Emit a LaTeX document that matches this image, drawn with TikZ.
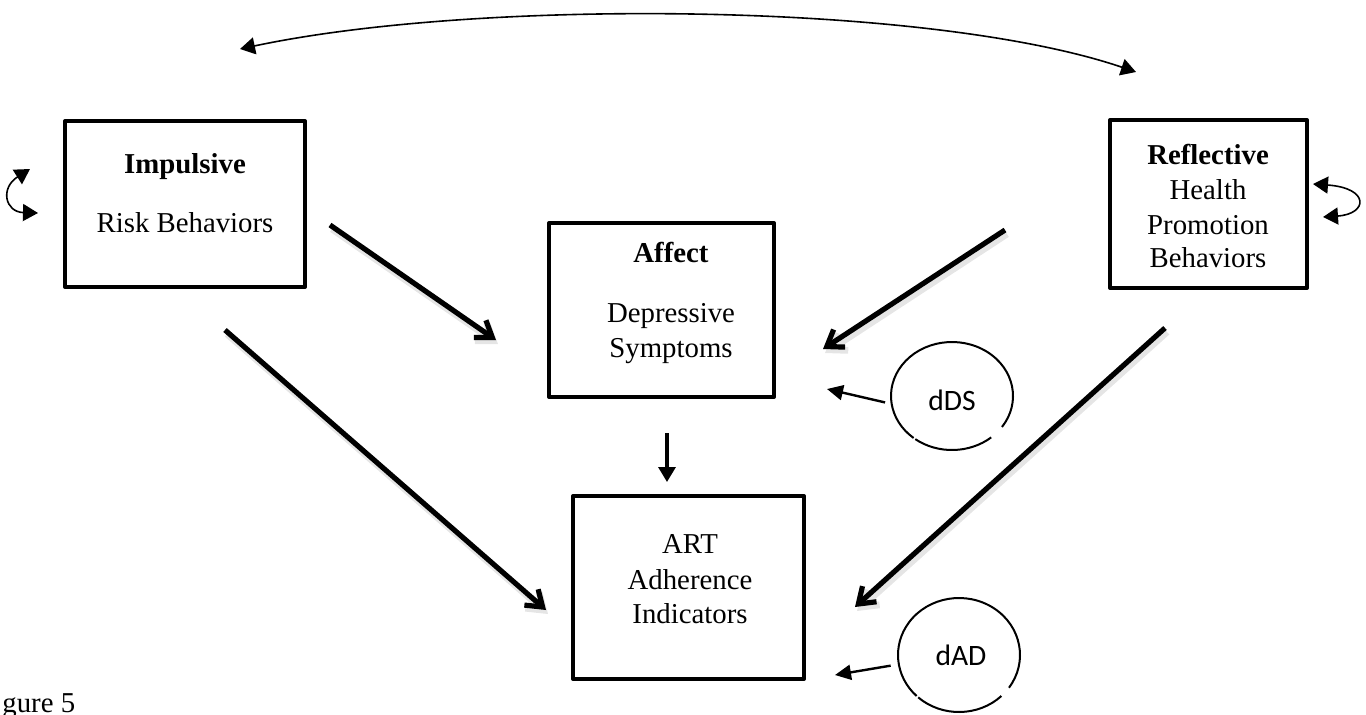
\documentclass[tikz,border=0pt]{standalone}
\usepackage{fontspec}
\setmainfont{Liberation Serif}
\newfontfamily\calibrifont{Carlito}
\usetikzlibrary{arrows.meta,shapes.geometric}
\begin{document}
\begin{tikzpicture}[x=0.5pt,y=-0.5pt,
  box/.style={draw, line width=2pt, rectangle, inner sep=0pt, line join=round},
  lbl/.style={font=\fontsize{14.4}{17}\selectfont, inner sep=0pt, anchor=base},
  errnode/.style={ellipse, inner sep=0pt, font=\calibrifont\fontsize{14.8}{17}\selectfont},
  errline/.style={line width=1pt},
  bigarrow/.style={line width=2.6pt, -{Straight Barb[length=7.5pt,width=10.5pt]}},
  bigshadow/.style={line width=3.4pt, black!10, -{Straight Barb[length=7.5pt,width=10.5pt]}},
  midarrow/.style={line width=1.6pt, -{Triangle[length=7.5pt,width=8.5pt]}},
  smallarrow/.style={line width=1.2pt, -{Triangle[length=8pt,width=7.5pt]}},
  curvearrow/.style={line width=0.8pt, {Triangle[length=7.5pt,width=8.5pt]}-{Triangle[length=7.5pt,width=8.5pt]}}
]
\useasboundingbox (0,0) rectangle (1366,714);

% boxes
\node[box, minimum width=120pt, minimum height=83pt] (imp) at (185,204) {};
\node[box, minimum width=112.5pt, minimum height=87pt] (aff) at (661.5,310) {};
\node[box, minimum width=98.5pt, minimum height=84pt] (ref) at (1208.5,204) {};
\node[box, minimum width=115.5pt, minimum height=91.5pt] (art) at (688.5,587.5) {};

% box texts
\node[lbl] (impT) at (185,173) {\textbf{Impulsive}};
\node[lbl] (impS) at (185,232) {Risk Behaviors};
\node[lbl] (affT) at (671,262) {\textbf{Affect}};
\node[lbl] (affS1) at (671,322) {Depressive};
\node[lbl] (affS2) at (671,357) {Symptoms};
\node[lbl] (refT) at (1208,164) {\textbf{Reflective}};
\node[lbl] (refS1) at (1208,199) {Health};
\node[lbl] (refS2) at (1208,234) {Promotion};
\node[lbl] (refS3) at (1208,267) {Behaviors};
\node[lbl] (artS1) at (690,553) {ART};
\node[lbl] (artS2) at (690,589) {Adherence};
\node[lbl] (artS3) at (690,623) {Indicators};

% error terms
\node[errnode, minimum width=61pt, minimum height=54pt] (dds) at (952,396) {};
\node[errnode, anchor=base] (ddsT) at (952,410) {dDS};
\draw[errline] ([shift={(-35:30.5pt and 27pt)}]dds.center) arc[start angle=-35, end angle=231, x radius=30.5pt, y radius=27pt];
\draw[errline] ([shift={(233:30.5pt and 27pt)}]dds.center) arc[start angle=233, end angle=310, x radius=30.5pt, y radius=27pt];

\node[errnode, minimum width=61pt, minimum height=57pt] (dad) at (959,655) {};
\node[errnode, anchor=base] (dadT) at (961,665) {dAD};
\draw[errline] ([shift={(-35:30.5pt and 28.5pt)}]dad.center) arc[start angle=-35, end angle=226, x radius=30.5pt, y radius=28.5pt];
\draw[errline] ([shift={(228:30.5pt and 28.5pt)}]dad.center) arc[start angle=228, end angle=314, x radius=30.5pt, y radius=28.5pt];

% coordinates for connector ends
\coordinate (a1s) at (330,225); \coordinate (a1e) at (496,340);
\coordinate (a2s) at (225,330); \coordinate (a2e) at (546,610);
\coordinate (a3s) at (1005,230); \coordinate (a3e) at (823,349);
\coordinate (a4s) at (1165,328); \coordinate (a4e) at (855,607);
\coordinate (a5s) at (667,433); \coordinate (a5e) at (667,482);
\coordinate (dsTip) at (827,389);
\coordinate (daTip) at (835,675);
\coordinate (topL) at (240,49); \coordinate (topR) at (1136,72);
\coordinate (lpA) at (30,169); \coordinate (lpB) at (38,213);
\coordinate (rpA) at (1313,184); \coordinate (rpB) at (1323,217);

% shadows
\foreach \s/\e in {a1s/a1e,a2s/a2e,a3s/a3e,a4s/a4e}
  \draw[bigshadow] ([shift={(2,4)}]\s) -- ([shift={(2,4)}]\e);

% thick arrows
\draw[bigarrow] (a1s) -- (a1e);
\draw[bigarrow] (a2s) -- (a2e);
\draw[bigarrow] (a3s) -- (a3e);
\draw[bigarrow] (a4s) -- (a4e);

% affect -> ART
\draw[midarrow] (a5s) -- (a5e);

% error arrows
\draw[smallarrow] ([xshift=-3pt]dds.186) -- (dsTip);
\draw[smallarrow] ([xshift=-4pt]dad.190) -- (daTip);

% covariance / self loops
\draw[curvearrow] (topL) .. controls (480,-2) and (930,2) .. (topR);
\draw[curvearrow] (lpA) .. controls (0,188) and (5,212) .. (lpB);
\draw[curvearrow] (rpA) .. controls (1370,188) and (1368,214) .. (rpB);

% caption fragment
\node[anchor=base west, inner sep=0pt, font=\fontsize{14.4}{17}\selectfont] (fig) at (2,712) {gure 5};
\end{tikzpicture}
\end{document}
